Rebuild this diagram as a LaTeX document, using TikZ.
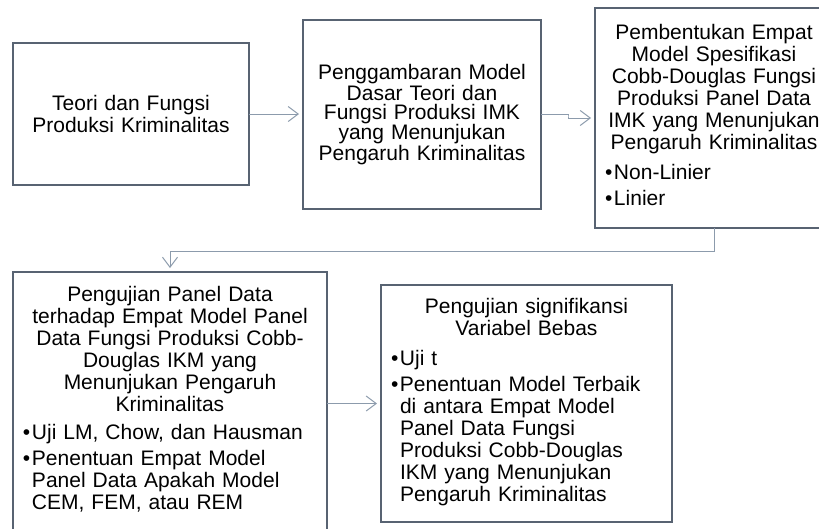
\documentclass[tikz,border=0pt]{standalone}
\usepackage{fontspec}
\setmainfont{Liberation Sans}
\usetikzlibrary{arrows.meta,calc}

\definecolor{boxline}{RGB}{88,99,114}
\definecolor{linkline}{RGB}{140,155,172}

\newcommand{\itembul}[1]{\par\vspace{4pt}\noindent\makebox[9pt][l]{\textbullet}%
  \begin{tabular}[t]{@{}l@{}}#1\end{tabular}}

\tikzset{
  box/.style={draw=boxline, line width=1.3pt, anchor=north west, outer sep=0pt,
    inner ysep=0pt, inner xsep=12pt, font=\fontsize{21}{22}\selectfont},
  link/.style={draw=linkline, line width=1pt,
    -{Straight Barb[length=10pt,width=15pt]}, shorten >=4pt},
}

\begin{document}
\begin{tikzpicture}[x=1pt,y=-1pt]
\useasboundingbox (0,0) rectangle (819,528);
\clip (0,0) rectangle (819,528);

% upper row
\node[box, text width=212pt, minimum width=236pt, minimum height=142pt, align=center]
  (b1) at (13,43) {Teori dan Fungsi\\Produksi Kriminalitas};
\node[box, text width=214pt, minimum width=238pt, minimum height=189pt, align=center,
  font=\fontsize{21}{19}\selectfont]
  (b2) at (303,20) {Penggambaran Model\\Dasar Teori dan\\Fungsi Produksi IMK\\yang Menunjukan\\Pengaruh Kriminalitas};
\node[box, inner xsep=10pt, text width=218pt, minimum width=238pt, minimum height=220pt]
  (b3) at (595,8) {{\centering Pembentukan Empat\\Model Spesifikasi\\Cobb-Douglas Fungsi\\Produksi Panel Data\\IMK yang Menunjukan\\Pengaruh Kriminalitas\par}
  \vspace{4pt}\raggedright
  \itembul{Non-Linier}
  \itembul{Linier}\par};

% lower row
\node[box, inner xsep=10pt, text width=294pt, minimum width=314pt, minimum height=258pt]
  (b4) at (13,272) {{\centering Pengujian Panel Data\\terhadap Empat Model Panel\\Data Fungsi Produksi Cobb-\\Douglas IKM yang\\Menunjukan Pengaruh\\Kriminalitas\par}
  \vspace{2pt}\raggedright
  \itembul{Uji LM, Chow, dan Hausman}
  \itembul{Penentuan Empat Model\\Panel Data Apakah Model\\CEM, FEM, atau REM}\par};
\node[box, inner xsep=10pt, text width=271pt, minimum width=291pt, minimum height=237pt]
  (b5) at (381,285) {{\centering Pengujian signifikansi\\Variabel Bebas\par}
  \vspace{4pt}\raggedright
  \itembul{Uji t}
  \itembul{Penentuan Model Terbaik\\di antara Empat Model\\Panel Data Fungsi\\Produksi Cobb-Douglas\\IKM yang Menunjukan\\Pengaruh Kriminalitas}\par};

% connectors
\draw[link] (b1.east) -- (b1.east -| b2.west);
\draw[link] (b2.east) -| ($(b2.east)!.5!(b3.west)$) |- (b3.west);
\draw[link] (b3.south) -- ++(0,23) -| (b4.north);
\draw[link] (b5.west -| b4.east) -- (b5.west);
\end{tikzpicture}
\end{document}
